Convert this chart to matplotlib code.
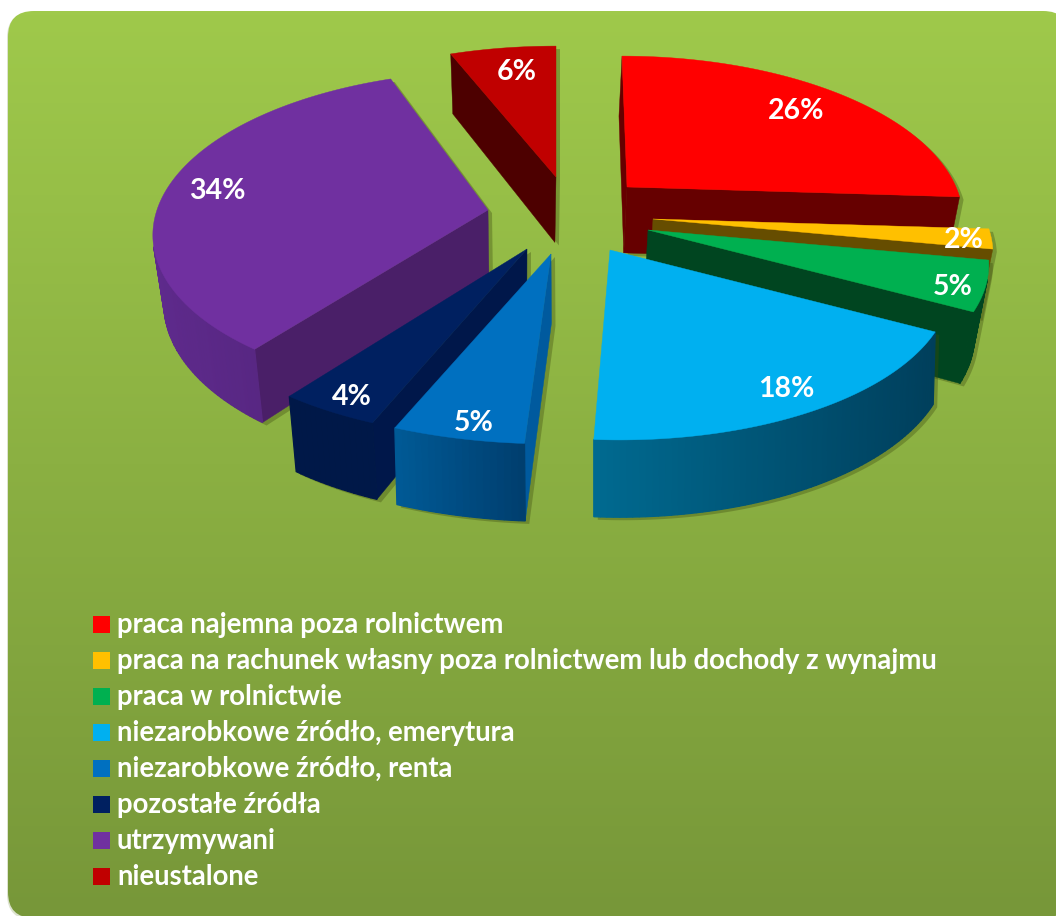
"""Exploded 3D-look pie chart with legend, drawn on a pixel-sized axes."""
import numpy as np
import matplotlib
matplotlib.use("Agg")
import matplotlib.pyplot as plt
from matplotlib.patches import FancyBboxPatch, Polygon, Rectangle

plt.rcParams["font.family"] = ["Lato", "DejaVu Sans"]

LABELS = ["praca najemna poza rolnictwem",
          "praca na rachunek własny poza rolnictwem lub dochody z wynajmu",
          "praca w rolnictwie",
          "niezarobkowe źródło, emerytura",
          "niezarobkowe źródło, renta",
          "pozostałe źródła",
          "utrzymywani",
          "nieustalone"]
VALUES = [26, 2, 5, 18, 5, 4, 34, 6]

TOP_COLOR = ["#FF0000", "#FFC000", "#00B050", "#00B0F0", "#0070C0", "#002060", "#7030A0", "#C00000"]
SIDE_COLOR = ["#660000", "#664D00", "#004520", "#004A6C", "#005A9E", "#00174A", "#4A1F68", "#4D0000"]
WALL_LEFT = ["#660000", "#664D00", "#004520", "#006A90", "#005A96", "#001848", "#5E2A8C", "#4D0000"]
WALL_RIGHT = ["#660000", "#664D00", "#004520", "#003F5C", "#003E6E", "#001848", "#4F2377", "#4D0000"]

# where each exploded slice sits in the picture
TIP_X = [627, 653, 648, 610, 551, 527, 488, 556]
TIP_Y = [187, 219, 230, 250, 254, 249, 210, 177]
RX = [329, 332, 333, 334, 353, 340, 328, 335]
ARC_DY = [0, 0, 0, 0, 0, 0, -8, 0]
SHEAR = [0.038, 0.068, 0.064, 0.05, 0.0035, -0.02, -0.047, 0.0]
# the bottom edge leans towards DROP_CX by DROP_K
DROP_CX = [520, 520, 520, 594, 600, 520, 520, 520]
DROP_K = [0.03, 0.03, 0.03, 0.006, 0.01, 0.03, 0.03, 0.03]
LABEL_XY = [(796, 111), (964, 240), (953, 287), (786, 389),
            (474, 423), (352, 397), (217, 191), (517, 72)]
DRAW_ORDER = [7, 0, 6, 1, 2, 5, 4, 3]

RY = 155
PERSP = 0.184


def project(i, theta):
    """Clockwise angle from 12 o'clock to picture coordinates for slice i."""
    X, Y = np.sin(theta), np.cos(theta)
    k = 1 / (1 + PERSP * Y)
    dy = -Y * RY * k
    dx = X * RX[i] * k + dy * SHEAR[i]
    return TIP_X[i] + dx, TIP_Y[i] + dy + ARC_DY[i]


def drop(i, x, y):
    """Bottom edge point of a wall below a top-face point."""
    return x - (x - DROP_CX[i]) * DROP_K[i], y + 60 + (y - 56) * 0.045


def hull(pts):
    pts = sorted(set(map(tuple, pts)))

    def half(seq):
        out = []
        for p in seq:
            while len(out) > 1 and ((out[-1][0] - out[-2][0]) * (p[1] - out[-2][1])
                                    - (out[-1][1] - out[-2][1]) * (p[0] - out[-2][0])) <= 0:
                out.pop()
            out.append(p)
        return out[:-1]
    return half(pts) + half(pts[::-1])


def signed_area(q):
    q = np.asarray(q)
    return 0.5 * np.sum(q[:, 0] * np.roll(q[:, 1], -1) - np.roll(q[:, 0], -1) * q[:, 1])


def mix(c1, c2, t):
    a, b = np.array(matplotlib.colors.to_rgb(c1)), np.array(matplotlib.colors.to_rgb(c2))
    return a + (b - a) * t


fig = plt.figure(figsize=(10.56, 9.16), dpi=100)
ax = fig.add_axes([0, 0, 1, 1])
ax.set_xlim(0, 1056)
ax.set_ylim(916, 0)
ax.axis("off")

# rounded gradient background, right and bottom edges run just past the canvas
ax.add_patch(FancyBboxPatch((7, 12), 1062, 908, boxstyle="round,pad=0,rounding_size=26",
                            fc="#DDE3CF", ec="none", zorder=0))
panel = FancyBboxPatch((8, 11), 1061, 907, boxstyle="round,pad=0,rounding_size=26",
                       fc="none", ec="none", zorder=1)
ax.add_patch(panel)
grad = np.linspace(0, 1, 256)[:, None, None] * (np.array([0x77, 0x97, 0x39]) - np.array([0x9F, 0xC9, 0x4B])) \
    + np.array([0x9F, 0xC9, 0x4B])
im = ax.imshow(grad.astype(np.uint8), extent=(0, 1069, 918, 11), aspect="auto", zorder=1)
im.set_clip_path(panel)
ax.set_xlim(0, 1056)
ax.set_ylim(916, 0)

# angles come straight from the values, clockwise from 12 o'clock
edges = np.cumsum([0] + VALUES) / sum(VALUES) * 2 * np.pi

for i in DRAW_ORDER:
    th = np.linspace(edges[i], edges[i + 1], max(VALUES[i] * 4, 8))
    ox, oy = project(i, th)
    tip = (TIP_X[i], TIP_Y[i])
    top = [tip] + list(zip(ox, oy))
    bottom = [drop(i, *p) for p in top]

    # soft shadow
    shadow = np.array(hull(top + bottom)) + [4, 3]
    ax.add_patch(Polygon(shadow, fc="#3D4A10", ec="none", alpha=0.35, zorder=2))

    # straight side walls, culled when they face away (y axis points down)
    for a, b in ((0, 1), (len(top) - 1, 0)):
        q = [top[a], top[b], bottom[b], bottom[a]]
        if signed_area(q) < 0:
            ax.add_patch(Polygon(q, fc=SIDE_COLOR[i], ec=SIDE_COLOR[i], lw=0.3, zorder=2))

    # outer wall, strip by strip so it can carry the horizontal gradient
    x0, x1 = min(ox), max(ox)
    for j in range(1, len(top) - 1):
        q = [top[j], top[j + 1], bottom[j + 1], bottom[j]]
        if signed_area(q) < 0:
            t = ((top[j][0] + top[j + 1][0]) / 2 - x0) / max(x1 - x0, 1)
            col = mix(WALL_LEFT[i], WALL_RIGHT[i], t)
            ax.add_patch(Polygon(q, fc=col, ec=col, lw=0.9, zorder=2))

    ax.add_patch(Polygon(top, fc=TOP_COLOR[i], ec=TOP_COLOR[i], lw=0.3, zorder=2))

for (lx, ly), v in zip(LABEL_XY, VALUES):
    ax.text(lx, ly, f"{v}%", color="white", fontsize=20.5, fontweight="bold",
            ha="center", va="center", zorder=5)

# legend
for k, (lab, col) in enumerate(zip(LABELS, TOP_COLOR)):
    y = 624 + 36 * k
    ax.add_patch(Rectangle((93, y - 8.5), 17, 17, fc=col, ec="none", zorder=5))
    ax.text(117, y + 1, lab, color="white", fontsize=19.8, fontweight="bold",
            ha="left", va="center", zorder=5)

fig.savefig("out.png", dpi=100)
